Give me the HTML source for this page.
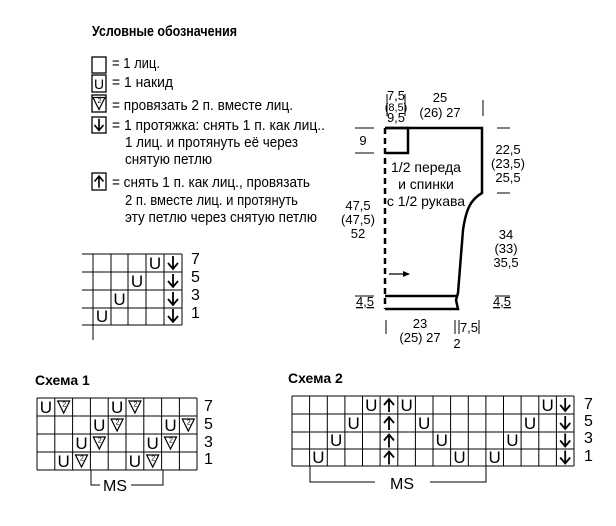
<!DOCTYPE html>
<html><head><meta charset="utf-8"><style>
body{margin:0;background:#fff}
svg{display:block;font-family:"Liberation Sans","DejaVu Sans",sans-serif}
.t{font-size:15px}
.u{font-size:17px;text-anchor:middle}
.n{font-size:16px}
</style></head><body>
<svg width="616" height="526" viewBox="0 0 616 526" xmlns="http://www.w3.org/2000/svg">
<defs>
<g id="dn"><path d="M0,-7V6M-5,0L0,6L5,0" fill="none" stroke="#000" stroke-width="1.8"/></g>
<g id="up"><path d="M0,7V-6M-5,0L0,-6L5,0" fill="none" stroke="#000" stroke-width="1.8"/></g>
<g id="v2"><path d="M-6,-6L0,6L6,-6Z" fill="none" stroke="#000" stroke-width="1.2"/><text x="0.5" y="-0.5" font-size="7" text-anchor="middle">2</text></g>
</defs>
<!-- legend -->
<text x="92" y="36" font-size="15" font-weight="bold" textLength="145" lengthAdjust="spacingAndGlyphs">Условные обозначения</text>
<g stroke="#000" stroke-width="1.3" fill="none">
<rect x="92" y="57" width="14" height="16"/><rect x="92" y="75" width="14" height="17"/><rect x="92" y="95" width="14" height="17"/><rect x="92" y="117" width="14" height="16"/><rect x="92" y="173" width="14" height="17"/>
</g>
<text x="99" y="89" font-size="14" text-anchor="middle">U</text>
<use href="#v2" transform="translate(99,103.5)"/>
<use href="#dn" transform="translate(99,125) scale(0.9)"/>
<use href="#up" transform="translate(99,181.5) scale(0.9)"/>
<g class="t">
<text x="112" y="68" textLength="48" lengthAdjust="spacingAndGlyphs">= 1 лиц.</text>
<text x="112" y="87" textLength="61" lengthAdjust="spacingAndGlyphs">= 1 накид</text>
<text x="112" y="110" textLength="181" lengthAdjust="spacingAndGlyphs">= провязать 2 п. вместе лиц.</text>
<text x="112" y="130" textLength="213" lengthAdjust="spacingAndGlyphs">= 1 протяжка: снять 1 п. как лиц..</text>
<text x="125" y="147" textLength="173" lengthAdjust="spacingAndGlyphs">1 лиц. и протянуть её через</text>
<text x="125" y="164" textLength="87" lengthAdjust="spacingAndGlyphs">снятую петлю</text>
<text x="112" y="187" textLength="198" lengthAdjust="spacingAndGlyphs">= снять 1 п. как лиц., провязать</text>
<text x="125" y="205" textLength="173" lengthAdjust="spacingAndGlyphs">2 п. вместе лиц. и протянуть</text>
<text x="125" y="222" textLength="192" lengthAdjust="spacingAndGlyphs">эту петлю через снятую петлю</text>
</g>
<!-- small chart -->
<g stroke="#000" stroke-width="1">
<path d="M82,254H182M82,272H182M82,290H182M82,308H182M82,325H182M93,254V340M111,254V325M128,254V325M146,254V325M164,254V325M182,254V325"/>
</g>
<g class="u"><text x="155" y="269">U</text><text x="137" y="287">U</text><text x="119.5" y="305">U</text><text x="102" y="322">U</text></g>
<use href="#dn" x="173" y="263"/><use href="#dn" x="173" y="281"/><use href="#dn" x="173" y="299"/><use href="#dn" x="173" y="316"/>
<g class="n"><text x="191" y="264">7</text><text x="191" y="282">5</text><text x="191" y="300">3</text><text x="191" y="318">1</text></g>
<!-- garment -->
<g fill="none" stroke="#000">
<path d="M385,128H482V193C470,200 466,210 463,230L458,293L456,300L458,309H385" stroke-width="2.5"/>
<path d="M385,296H458M385,128H408V153H385" stroke-width="2.5"/>
<path d="M385,128V309" stroke-width="2.5" stroke-dasharray="6,4"/>
<path d="M389,274H409" stroke-width="1.2"/>
<path d="M403,271L410,274L403,277Z" fill="#000" stroke="none"/>
<g stroke-width="1">
<path d="M355,128H374M355,153H374M497,128H510M497,193H510M355,296H374M495,296H510M387,94V116M405,94V116M483,100V116M386,320V334M455,320V334M459,320V334M479,320V334"/>
</g>
</g>
<g font-size="13" text-anchor="middle">
<text x="396" y="100">7,5</text><text x="396" y="111" font-size="11">(8,5)</text><text x="396" y="122">9,5</text>
<text x="440" y="102">25</text><text x="440" y="117">(26) 27</text>
<text x="363" y="145">9</text>
<text x="508" y="154">22,5</text><text x="508" y="168">(23,5)</text><text x="508" y="182">25,5</text>
<text x="358" y="210">47,5</text><text x="358" y="224">(47,5)</text><text x="358" y="238">52</text>
<text x="506" y="239">34</text><text x="506" y="253">(33)</text><text x="506" y="267">35,5</text>
<text x="365" y="306" text-decoration="underline">4,5</text>
<text x="502" y="306" text-decoration="underline">4,5</text>
<text x="420" y="328">23</text><text x="420" y="342">(25) 27</text>
<text x="469" y="332">7,5</text><text x="457" y="348">2</text>
</g>
<g font-size="14" text-anchor="middle">
<text x="426" y="172">1/2 переда</text><text x="426" y="189">и спинки</text><text x="426" y="206">с 1/2 рукава</text>
</g>
<!-- Schema 1 -->
<text x="35" y="385" font-size="14" font-weight="bold">Схема 1</text>
<g stroke="#000" stroke-width="1" fill="none">
<path d="M37,398H197M37,416H197M37,434H197M37,452H197M37,470H197M37,398V470M54.8,398V470M72.6,398V470M90.4,398V470M108.2,398V470M126,398V470M143.8,398V470M161.6,398V470M179.4,398V470M197,398V470"/>
<path d="M91,470V485H100M131,485H163V470"/>
</g>
<g class="u">
<text x="45.9" y="413">U</text><text x="117.1" y="413">U</text>
<text x="99.3" y="431">U</text><text x="170.5" y="431">U</text>
<text x="81.5" y="449">U</text><text x="152.7" y="449">U</text>
<text x="63.7" y="467">U</text><text x="134.9" y="467">U</text>
</g>
<use href="#v2" x="63.7" y="407"/><use href="#v2" x="134.9" y="407"/>
<use href="#v2" x="117.1" y="425"/><use href="#v2" x="188.3" y="425"/>
<use href="#v2" x="99.3" y="443"/><use href="#v2" x="170.5" y="443"/>
<use href="#v2" x="81.5" y="461"/><use href="#v2" x="152.7" y="461"/>
<text x="115" y="491" font-size="16" text-anchor="middle">MS</text>
<g class="n"><text x="204" y="411">7</text><text x="204" y="429">5</text><text x="204" y="447">3</text><text x="204" y="464">1</text></g>
<!-- Schema 2 -->
<text x="288" y="383" font-size="14" font-weight="bold">Схема 2</text>
<g stroke="#000" stroke-width="1" fill="none">
<path d="M292,396H574M292,414H574M292,432H574M292,449H574M292,466H574
M292,396V466M309.6,396V466M327.3,396V466M344.9,396V466M362.5,396V466M380.1,396V466M397.8,396V466M415.4,396V466M433,396V466M450.6,396V466M468.3,396V466M485.9,396V466M503.5,396V466M521.1,396V466M538.8,396V466M556.4,396V466M574,396V466"/>
<path d="M310,466V482H375M430,482H486V466"/>
</g>
<g class="u">
<text x="371.3" y="411">U</text><text x="406.6" y="411">U</text><text x="547.6" y="411">U</text>
<text x="353.7" y="429">U</text><text x="424.2" y="429">U</text><text x="530" y="429">U</text>
<text x="336.1" y="446">U</text><text x="441.8" y="446">U</text><text x="512.4" y="446">U</text>
<text x="318.4" y="463">U</text><text x="459.5" y="463">U</text><text x="494.7" y="463">U</text>
</g>
<use href="#up" x="389" y="405"/><use href="#up" x="389" y="423"/><use href="#up" x="389" y="440.5"/><use href="#up" x="389" y="457.5"/>
<use href="#dn" x="565.2" y="405"/><use href="#dn" x="565.2" y="423"/><use href="#dn" x="565.2" y="440.5"/><use href="#dn" x="565.2" y="457.5"/>
<text x="402" y="489" font-size="16" text-anchor="middle">MS</text>
<g class="n"><text x="584" y="409">7</text><text x="584" y="426">5</text><text x="584" y="443">3</text><text x="584" y="461">1</text></g>
</svg>
</body></html>
